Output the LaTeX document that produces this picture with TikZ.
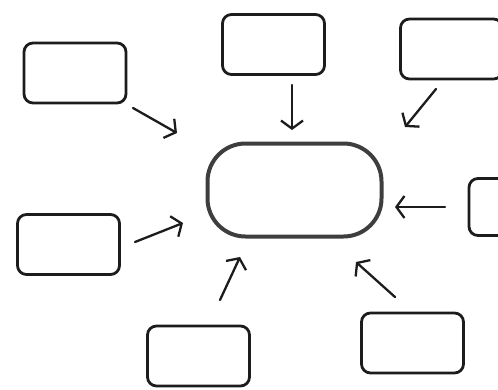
\documentclass[tikz,border=0pt]{standalone}
\usetikzlibrary{arrows.meta}
\definecolor{ink}{HTML}{1C1C1C}
\begin{document}
\begin{tikzpicture}[
  x=1pt,
  y=-1pt,
  box/.style={draw=ink, rounded corners=9pt, line width=2.8pt, minimum width=102pt, minimum height=60pt, inner sep=0pt},
  hub/.style={draw=ink!85, rounded corners=38pt, line width=4pt, minimum width=174pt, minimum height=93pt, inner sep=0pt},
  flow/.style={draw=ink, -{Straight Barb[length=8pt,width=22pt]}, line width=2.3pt, line cap=round}
]
\clip (0,0) rectangle (498,389);
\node[hub] (hub) at (294.5,190) {};
\node[box] (tl) at (75,73) {};
\node[box] (tm) at (273.5,44.5) {};
\node[box] (tr) at (451.5,49) {};
\node[box,minimum height=57pt] (rt) at (520,207) {};
\node[box] (br) at (412.5,343) {};
\node[box] (bm) at (198.5,356) {};
\node[box] (lt) at (68.5,244.5) {};
\draw[flow] ([shift={(58,35)}]tl.center) -- ([shift={(-117.5,-57)}]hub.center);
\draw[flow] ([shift={(18.5,40.5)}]tm.center) -- ([shift={(-2.5,-60)}]hub.center);
\draw[flow] ([shift={(-15.5,40)}]tr.center) -- ([shift={(110.5,-63)}]hub.center);
\draw[flow] ([shift={(-75,0)}]rt.center) -- ([shift={(100.5,17)}]hub.center);
\draw[flow] ([shift={(-17.5,-46)}]br.center) -- ([shift={(61.5,72)}]hub.center);
\draw[flow] ([shift={(21.5,-56)}]bm.center) -- ([shift={(-54.5,67)}]hub.center);
\draw[flow] ([shift={(66.5,-2.5)}]lt.center) -- ([shift={(-111.5,33)}]hub.center);
\end{tikzpicture}
\end{document}
